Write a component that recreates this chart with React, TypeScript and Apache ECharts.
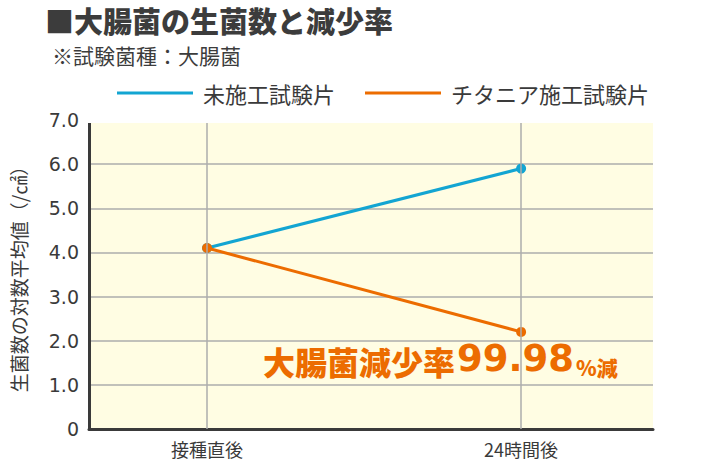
import React, { useEffect, useRef } from "react";
import * as echarts from "echarts";

const categories = ["接種直後", "24時間後"];
const seriesNames = ["未施工試験片", "チタニア施工試験片"];
const untreated = [4.1, 5.9];
const titania = [4.1, 2.2];
const yMin = 0;
const yMax = 7;
const yInterval = 1;
const titleText = "■大腸菌の生菌数と減少率";
const subtitleText = "※試験菌種：大腸菌";
const yAxisName = "生菌数の対数平均値（/㎠）";
const annotationLabel = "大腸菌減少率";
const annotationValue = "99.98";
const annotationUnit = "%減";

const CJK = '"Noto Sans CJK JP", "Noto Sans CJK SC", sans-serif';
const NUM = '"DejaVu Sans", sans-serif';
const BLUE = "#13a5d2";
const ORANGE = "#ec6c00";
const DARK = "#3a3a3a";
const GRIDC = "#acacac";

export default function App() {
  const ref = useRef<HTMLDivElement>(null);
  useEffect(() => {
    if (!ref.current) return;
    const chart = echarts.init(ref.current, null, { renderer: "svg" });
    const toPoints = (arr: number[]) => arr.map((v, i) => [i, v]);
    chart.setOption({
      animation: false,
      grid: {
        left: 89,
        right: 67,
        top: 120,
        bottom: 35,
        show: true,
        backgroundColor: "#fffde3",
        borderWidth: 0,
      },
      legend: {
        data: seriesNames,
        left: 117,
        top: 82,
        padding: 0,
        icon: "rect",
        itemWidth: 76,
        itemHeight: 3,
        itemGap: 30,
        textStyle: {
          fontSize: 22,
          fontFamily: CJK,
          color: DARK,
          padding: [0, 0, 0, 5],
        },
      },
      xAxis: {
        type: "value",
        min: -0.376,
        max: 1.42,
        axisLine: { show: true, onZero: false, lineStyle: { color: DARK, width: 3 } },
        axisTick: { show: false },
        splitLine: { show: false },
        axisLabel: {
          customValues: categories.map((_, i) => i),
          formatter: (v: number) => categories[Math.round(v)] ?? "",
          fontSize: 18,
          fontFamily: CJK,
          color: DARK,
          margin: 11,
        },
      },
      yAxis: {
        type: "value",
        min: yMin,
        max: yMax,
        interval: yInterval,
        name: yAxisName,
        nameLocation: "middle",
        nameRotate: 90,
        nameGap: 61,
        nameTextStyle: { fontSize: 19, fontFamily: CJK, color: DARK },
        axisLine: { show: true, onZero: false, lineStyle: { color: DARK, width: 3 } },
        axisTick: { show: false },
        splitLine: { show: true, lineStyle: { color: GRIDC, width: 1.5 } },
        axisLabel: {
          formatter: (v: number) => (v === 0 ? "0" : v.toFixed(1)),
          fontSize: 19,
          fontFamily: NUM,
          color: DARK,
          margin: 10,
        },
      },
      graphic: [
        {
          type: "text",
          x: 45,
          y: 20,
          style: {
            text: titleText,
            fontSize: 29,
            fontWeight: 900,
            fontFamily: CJK,
            fill: "#3c3c3c",
            verticalAlign: "middle",
          },
        },
        {
          type: "text",
          x: 52,
          y: 55,
          style: {
            text: subtitleText,
            fontSize: 21,
            fontFamily: CJK,
            fill: "#3c3c3c",
            verticalAlign: "middle",
          },
        },
        {
          type: "rect",
          z: 100,
          shape: { x: 80, y: 116, width: 590, height: 7 },
          style: { fill: "#ffffff" },
        },
        {
          type: "text",
          z: 100,
          x: 263,
          y: 377,
          style: {
            text: `{a|${annotationLabel}}{b|${annotationValue}}{c|${annotationUnit}}`,
            verticalAlign: "bottom",
            rich: {
              a: { fontSize: 32, fontWeight: 900, fontFamily: CJK, fill: ORANGE, verticalAlign: "bottom" },
              b: { fontSize: 37, fontWeight: "bold", fontFamily: NUM, fill: ORANGE, verticalAlign: "bottom", padding: [0, 2, 0, 2] },
              c: { fontSize: 21, fontWeight: 900, fontFamily: CJK, fill: ORANGE, verticalAlign: "bottom" },
            },
          },
        },
      ],
      series: [
        {
          name: "grid-v",
          type: "line",
          data: [],
          z: 1,
          silent: true,
          markLine: {
            silent: true,
            symbol: "none",
            label: { show: false },
            lineStyle: { color: GRIDC, width: 1.5, type: "solid" },
            data: categories.map((_, i) => ({ xAxis: i })),
          },
        },
        {
          name: seriesNames[0],
          type: "line",
          data: toPoints(untreated),
          symbol: "circle",
          symbolSize: 10,
          lineStyle: { color: BLUE, width: 3 },
          itemStyle: { color: BLUE },
          z: 3,
        },
        {
          name: seriesNames[1],
          type: "line",
          data: toPoints(titania),
          symbol: "circle",
          symbolSize: 10,
          lineStyle: { color: ORANGE, width: 3 },
          itemStyle: { color: ORANGE },
          z: 4,
        },
      ],
    });
    return () => chart.dispose();
  }, []);
  return (
    <div
      ref={ref}
      style={{ position: "fixed", left: 0, top: 0, width: 720, height: 464, background: "#fff" }}
    />
  );
}
